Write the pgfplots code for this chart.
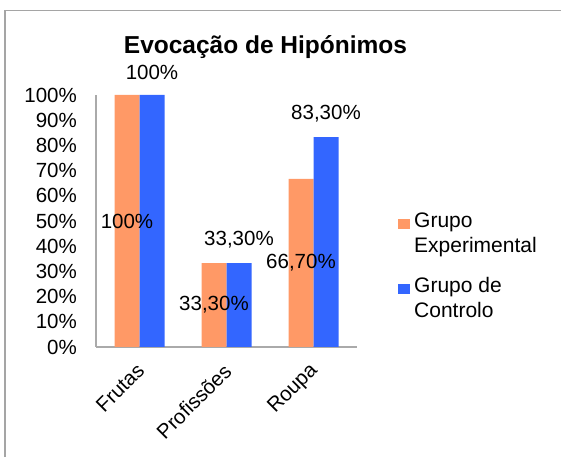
\documentclass[border=0pt]{standalone}
\usepackage{pgfplots}
\pgfplotsset{compat=1.18}
\usepackage{fontspec}
\setmainfont{Liberation Sans}
\definecolor{orangebar}{RGB}{255,153,102}
\definecolor{bluebar}{RGB}{51,102,255}
\definecolor{axgray}{RGB}{170,170,170}
\definecolor{framegray}{RGB}{165,165,165}
\begin{document}
\begin{tikzpicture}[x=1pt,y=1pt]
\path[use as bounding box] (0,0) rectangle (561,457);
\draw[framegray, line width=1.4pt] (5,0) -- (5,446.3) -- (561,446.3);
\node[font=\bfseries\fontsize{24.5}{29}\selectfont] at (265.5,410) {Evocação de Hipónimos};
\begin{axis}[
  at={(96pt,110pt)}, anchor=south west,
  scale only axis, width=261pt, height=252pt,
  ybar=0pt, bar width=25pt,
  xmin=-0.5, xmax=2.5, ymin=0, ymax=100,
  axis x line*=bottom, axis y line*=left,
  axis line style={axgray, line width=1.2pt, -},
  major tick length=0pt,
  xtick={0,1,2}, xticklabels={Frutas,Profissões,Roupa},
  ytick={0,10,...,100},
  yticklabels={0\%,10\%,20\%,30\%,40\%,50\%,60\%,70\%,80\%,90\%,100\%},
  yticklabel style={font=\fontsize{20.5}{24}\selectfont, inner sep=0pt, anchor=east, xshift=-19pt},
  xticklabel style={font=\fontsize{20.5}{24}\selectfont, rotate=45, anchor=east, inner sep=0pt, xshift=-13.6pt, yshift=-15.4pt},
  legend style={draw=none, fill=none, at={(1.157,0.535)}, anchor=north west, inner sep=0pt,
    row sep=24pt, column sep=4pt,
    nodes={inner sep=0pt, align=left, font=\fontsize{21}{25}\selectfont}},
  legend cell align=left,
  legend image code/.code={\draw[#1,/tikz/.cd,draw=none] (0pt,4pt) rectangle (12pt,14pt);},
  clip=false,
]
\addplot[fill=orangebar, draw=none, bar shift=-12.5pt] coordinates {(0,100) (1,33.3) (2,66.7)};
\addlegendentry{Grupo\\Experimental}
\addplot[fill=bluebar, draw=none, bar shift=12.5pt,
  nodes near coords, point meta=explicit symbolic,
  every node near coord/.append style={font=\fontsize{20.5}{24}\selectfont, inner sep=0pt, yshift=15pt, text=black}]
  coordinates {(0,100) [100\%] (1,33.3) [33,30\%] (2,83.3) [83,30\%]};
\addlegendentry{Grupo de\\Controlo}
\addplot[forget plot, draw=none, fill=none, bar shift=-12.5pt, bar width=0.01pt,
  nodes near coords, point meta=explicit symbolic, nodes near coords align={center},
  every node near coord/.append style={font=\fontsize{20.5}{24}\selectfont, inner sep=0pt, text=black}]
  coordinates {(0,50) [100\%] (1,16.65) [33,30\%] (2,33.35) [66,70\%]};
\end{axis}
\end{tikzpicture}
\end{document}
